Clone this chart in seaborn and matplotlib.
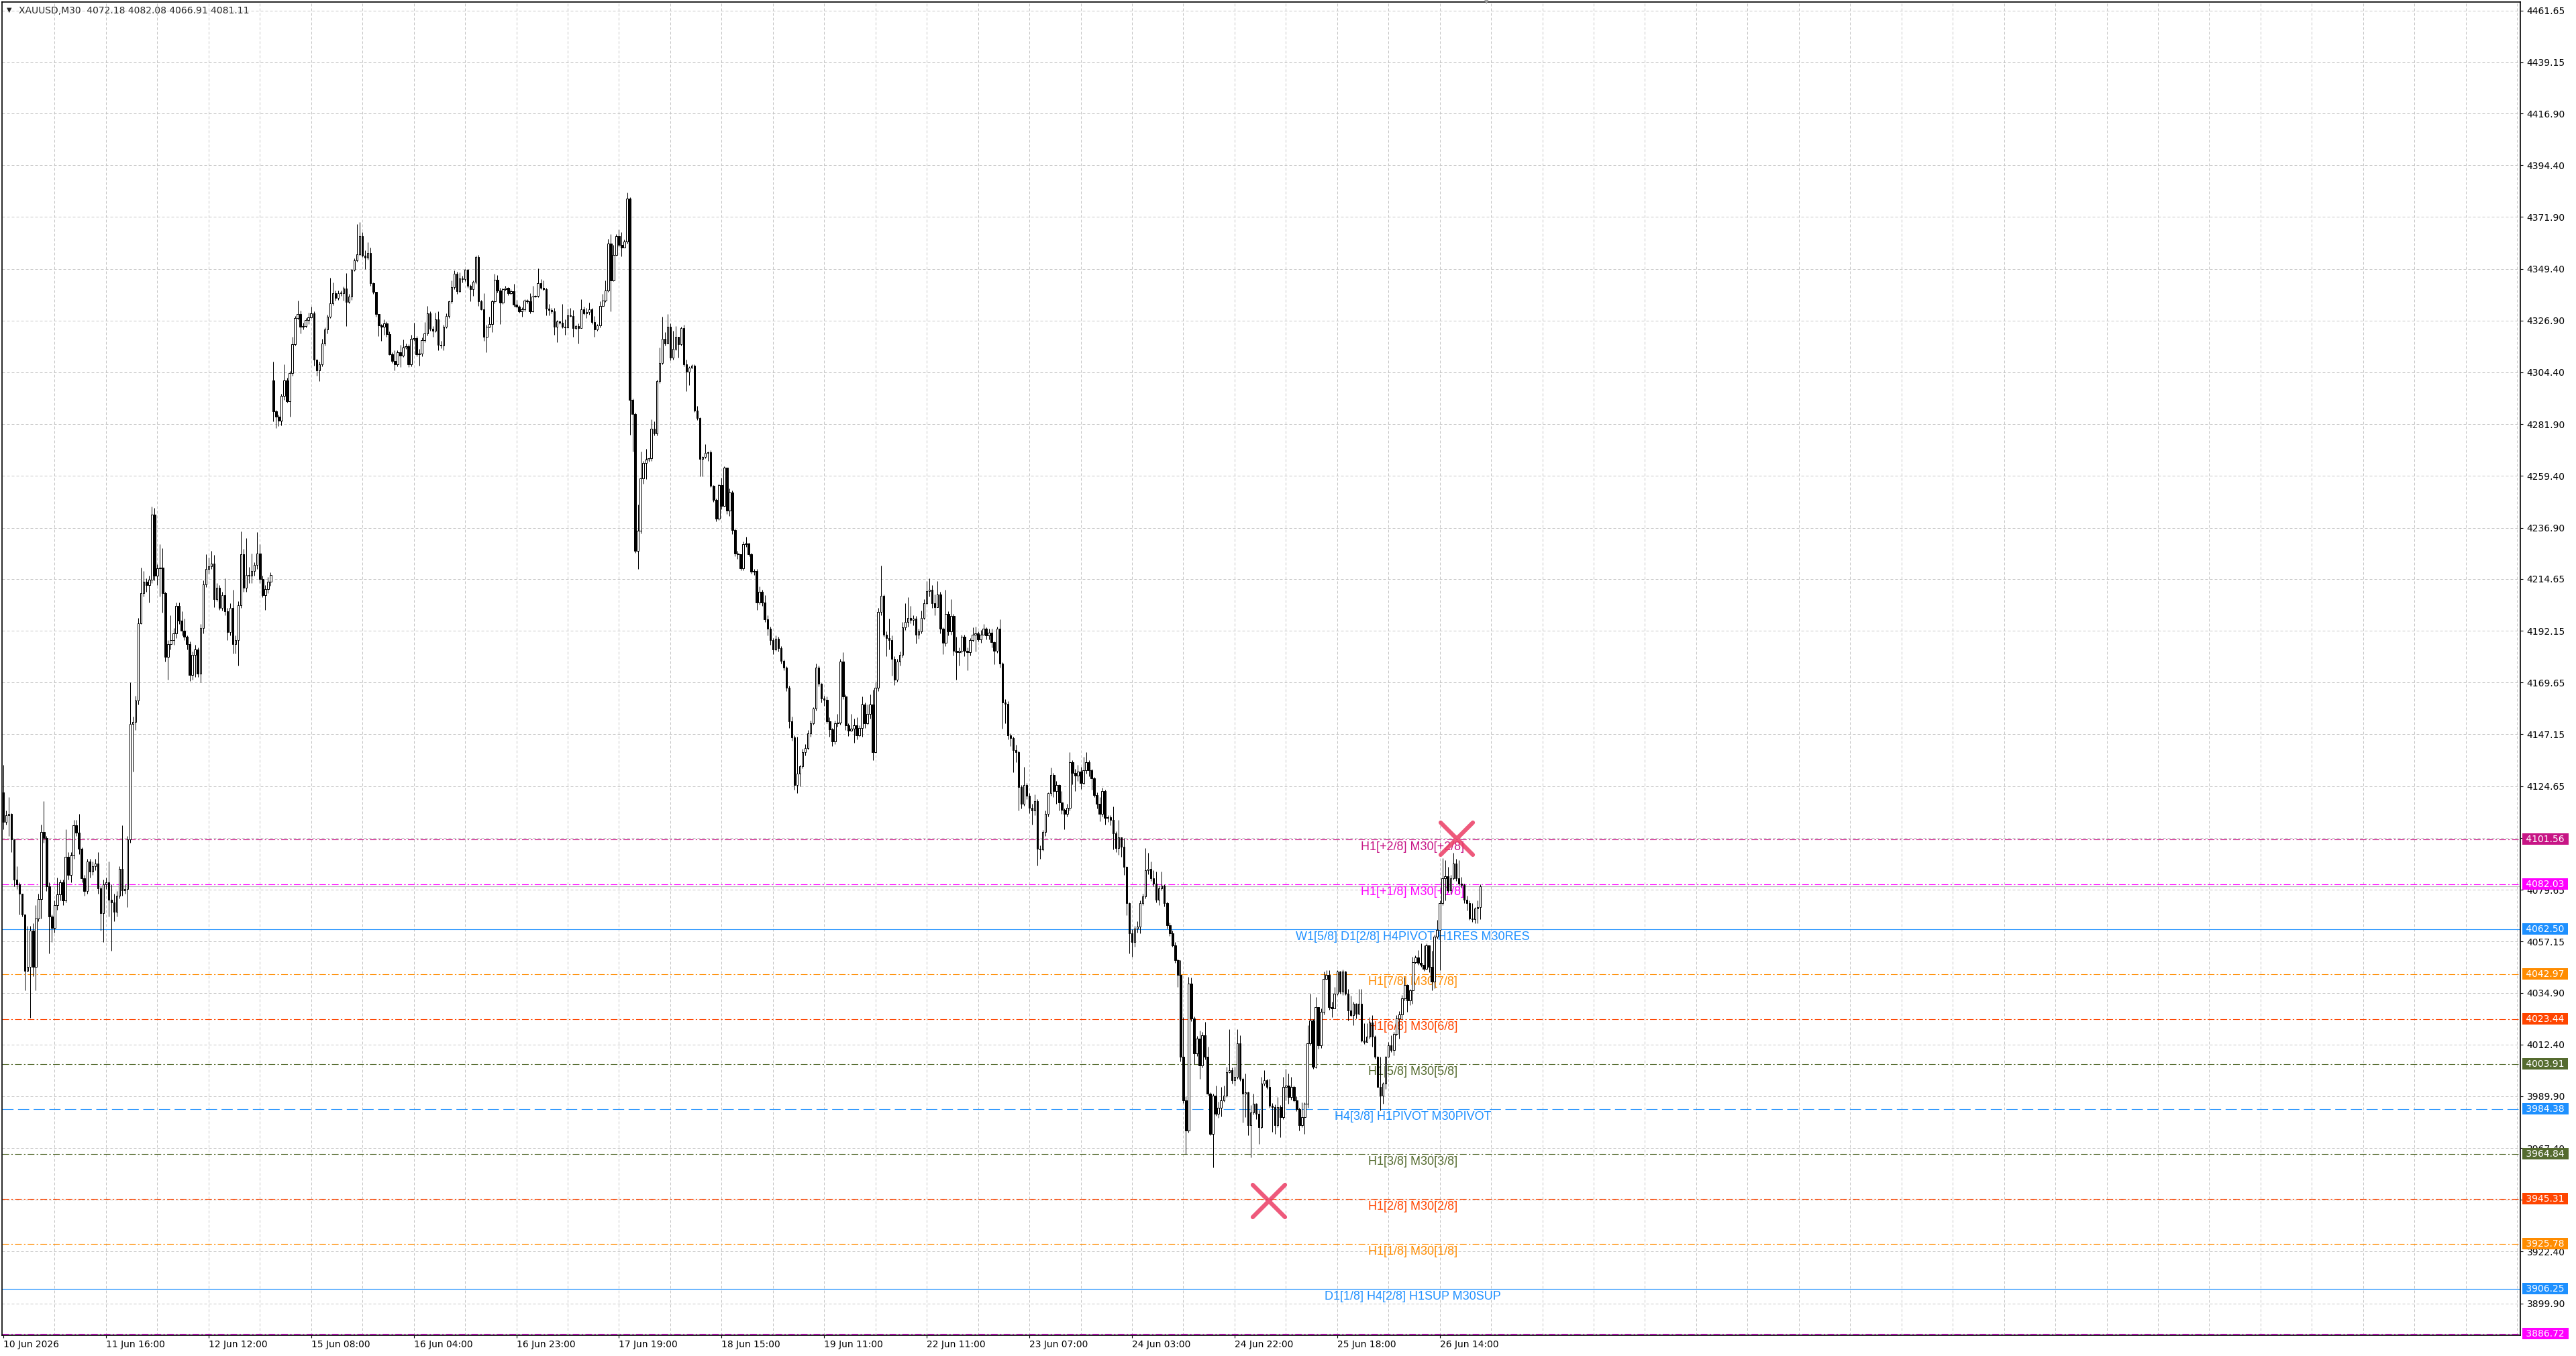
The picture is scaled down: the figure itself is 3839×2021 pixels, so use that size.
import numpy as np
import pandas as pd
import matplotlib
matplotlib.use("Agg")
import matplotlib.pyplot as plt
from matplotlib.markers import MarkerStyle
import seaborn as sns

# ---- data (XAUUSD M30) ----
symbol_text = "XAUUSD,M30  4072.18 4082.08 4066.91 4081.11"
first_open = 4122.0
gap_opens = {100: 4301.0}   # monday open after the weekend

close = [
    # 10 Jun - 12 Jun
    4109, 4112, 4112.5, 4101.5, 4084, 4082, 4078, 4069, 4044.5, 4046,
    4062, 4046, 4067, 4075.5, 4104.7, 4102, 4081, 4068, 4063, 4073,
    4077.6, 4083, 4075, 4094, 4086, 4094.5, 4107.5, 4104.4, 4097.3, 4084.7,
    4079.2, 4091.8, 4087.4, 4090, 4091, 4080.3, 4069.4, 4082, 4083, 4075.2,
    4074, 4070, 4077, 4088.6, 4079.5, 4080, 4101.5, 4151.6, 4152.4, 4161.9,
    4195.4, 4208.4, 4213.4, 4212, 4214.4, 4242.6, 4216.2, 4219.4, 4219.7, 4208.4,
    4180.8, 4186.3, 4188.2, 4191, 4202.9, 4196.6, 4192.3, 4189.5, 4186.3, 4172.9,
    4181.6, 4184, 4173.4, 4193.4, 4212.3, 4219.1, 4220.2, 4221.3, 4206, 4210.7,
    4202, 4207.6, 4200.5, 4191.5, 4202.1, 4186.3, 4188, 4203.3, 4225.4, 4210.7,
    4216.3, 4216, 4218, 4220.7, 4225.7, 4214.7, 4207.6, 4210.3, 4213.4, 4216.3,
    # 15 Jun - 18 Jun
    4287.5, 4285.3, 4283.4, 4294.2, 4300.9, 4292.0, 4304.0, 4316.6, 4328.1, 4329.8,
    4324.2, 4324.5, 4327.0, 4328.3, 4330.0, 4309.9, 4305.2, 4307.9, 4316.9, 4323.0,
    4328.6, 4334.4, 4338.7, 4336.7, 4338.7, 4338.9, 4340.9, 4335.0, 4337.2, 4349.0,
    4353.2, 4355.7, 4363.5, 4355.2, 4354.3, 4356.4, 4343.2, 4339.3, 4329.8, 4324.7,
    4324.2, 4325.8, 4321.0, 4312.4, 4309.4, 4307.9, 4313.0, 4311.6, 4315.2, 4315.8,
    4307.9, 4319.1, 4319.3, 4312.4, 4312.6, 4318.3, 4321.4, 4330.1, 4323.3, 4322.5,
    4327.3, 4316.3, 4316.0, 4324.2, 4328.9, 4335.3, 4341.3, 4347.1, 4339.6, 4345.2,
    4345.0, 4349.0, 4342.0, 4340.6, 4343.7, 4354.6, 4335.3, 4331.8, 4319.7, 4324.2,
    4325.5, 4335.3, 4344.5, 4340.0, 4334.8, 4340.4, 4341.2, 4338.7, 4339.6, 4333.7,
    4333.1, 4330.9, 4331.8, 4335.6, 4335.4, 4330.9, 4337.4, 4337.6, 4343.2, 4341.2,
    4340.4, 4332.0, 4331.6, 4330.9, 4324.2, 4326.6, 4326.1, 4324.2, 4324.0, 4329.2,
    4329.0, 4323.6, 4324.5, 4323.6, 4331.8, 4330.0, 4330.5, 4331.8, 4326.2, 4323.0,
    4324.7, 4333.3, 4335.6, 4340.0, 4360.5, 4344.3, 4355.5, 4363.5, 4359.7, 4358.5,
    4361.3, 4380.0, 4292.3, 4286.2, 4226.9, 4235.6, 4258.2, 4265.1, 4266.6, 4267.0,
    4280.0, 4277.8, 4300.7, 4308.5, 4319.1, 4316.9, 4324.2, 4310.8, 4314.7, 4319.7,
    4316.6, 4323.6, 4307.9, 4304.6, 4306.3, 4307.4, 4287.8, 4284.5, 4266.9, 4267.6,
    4269.4, 4269.6, 4255.1, 4249.1, 4240.9, 4255.4, 4246.5, 4262.9,
    # 18 Jun - 23 Jun
    4244.3, 4252.3, 4235.9, 4225.8, 4225.3, 4219.2, 4229.9, 4230.0, 4225.5, 4217.9,
    4218.2, 4204.3, 4209.0, 4204.3, 4197.0, 4193.0, 4188.0, 4184.1, 4188.7, 4184.5,
    4179.0, 4176.2, 4167.3, 4152.9, 4145.8, 4125.2, 4130.0, 4133.2, 4139.5, 4141.3,
    4147.6, 4152.0, 4158.3, 4176.2, 4169.0, 4162.8, 4162.0, 4152.9, 4149.3, 4144.0,
    4152.0, 4152.3, 4178.9, 4163.7, 4151.1, 4148.8, 4149.5, 4151.1, 4146.6, 4150.0,
    4160.1, 4152.0, 4156.0, 4160.1, 4139.5, 4167.3, 4200.4, 4207.2, 4190.5, 4189.0,
    4188.0, 4179.8, 4170.8, 4178.9, 4181.6, 4193.6, 4196.0, 4197.7, 4196.8, 4197.3,
    4190.5, 4191.8, 4197.7, 4204.0, 4209.3, 4210.0, 4204.0, 4202.5, 4207.9, 4192.9,
    4187.0, 4199.5, 4191.8, 4198.6, 4183.4, 4182.8, 4183.4, 4189.6, 4183.4, 4182.8,
    4188.2, 4190.5, 4191.0, 4188.5, 4190.5, 4192.9, 4190.1, 4191.3, 4187.1, 4183.4,
    4192.9, 4178.0, 4161.0, 4160.5, 4146.6, 4145.5, 4140.4, 4139.5, 4124.3, 4117.1,
    4125.2, 4120.5, 4115.3, 4114.0, 4118.0, 4097.4, 4097.2, 4104.6, 4112.6, 4121.6,
    4129.6, 4122.5, 4125.2, 4117.5, 4114.4, 4112.6, 4115.3, 4135.0, 4130.5, 4129.3,
    4131.0, 4126.1, 4131.4, 4135.0, 4131.4, 4127.9, 4120.7, 4117.1, 4112.6, 4122.5,
    4110.8, 4111.2, 4109.9,
    # 23 Jun - 26 Jun
    4104.2, 4097.6, 4102.5, 4098.4, 4089.7, 4073.7, 4060.6, 4057.0, 4062.8, 4063.7,
    4073.7, 4076.6, 4088.2, 4088.6, 4084.6, 4082.4, 4075.2, 4080.2, 4081.4, 4073.7,
    4064.3, 4060.6, 4055.6, 4049.0, 4042.5, 4007.0, 3988.1, 3975.0, 4038.9, 4023.7,
    4008.4, 4015.0, 4003.3, 4016.4, 4007.0, 3991.0, 3973.6, 3990.3, 3982.3, 3985.0,
    3988.1, 3990.3, 4000.4, 4001.1, 3996.8, 3998.2, 4012.8, 3997.5, 3991.0, 3991.5,
    3977.2, 3983.0, 3986.6, 3982.2, 3976.5, 3995.3, 3996.8, 3993.9, 3985.9, 3985.2,
    3977.2, 3985.2, 3980.8, 3993.9, 3994.6, 3989.5, 3993.9, 3988.1, 3984.4, 3977.2,
    3980.8, 3986.6, 4012.8, 4022.9, 4002.6, 4028.7, 4012.0, 4026.5, 4041.0, 4042.5,
    4028.7, 4028.0, 4034.5, 4044.0, 4035.2, 4044.0, 4034.5, 4027.3, 4025.1, 4030.2,
    4025.8, 4030.2, 4014.2, 4013.5, 4015.7, 4022.0, 4015.7, 4007.0, 3993.9, 3990.3,
    3995.3, 4007.0, 4012.0, 4010.0, 4017.1, 4023.7, 4025.5, 4032.3, 4038.2, 4031.6,
    4035.9, 4048.3, 4050.2, 4048.0, 4047.0, 4045.4, 4055.6, 4046.1, 4039.6, 4059.2,
    4062.1, 4073.7, 4084.6, 4085.5, 4079.5, 4084.6, 4091.1, 4084.6, 4082.4, 4081.7,
    4075.2, 4073.7, 4067.2, 4066.7, 4071.5, 4072.18, 4081.11,
]

high = [
    4134, 4114, 4120, 4113, 4101, 4090, 4083, 4078, 4063, 4064,
    4064, 4065, 4073, 4078, 4108, 4118, 4103, 4083, 4069, 4075,
    4085, 4084, 4084, 4106, 4096, 4096, 4110, 4110, 4112.6, 4098,
    4086, 4093, 4093, 4092, 4093, 4096, 4081, 4084, 4085, 4092,
    4082, 4078, 4079, 4090, 4107.5, 4082, 4103, 4169.8, 4155, 4164,
    4197.6, 4219.7, 4218, 4215, 4216, 4246.2, 4245.4, 4221, 4229.7, 4228,
    4209, 4188, 4199, 4193.4, 4204.5, 4204.3, 4200.5, 4197.4, 4190, 4187.6,
    4183, 4186, 4185, 4195, 4214, 4225.4, 4224, 4227, 4225, 4213,
    4212, 4209, 4215, 4202, 4204, 4210, 4190, 4205, 4235.2, 4227.6,
    4232.3, 4220, 4225.7, 4222, 4234.9, 4229.7, 4216, 4212, 4215.5, 4217.5,
    4309, 4288, 4286, 4295, 4308, 4302, 4305, 4319.7, 4329, 4335.7,
    4331.2, 4326, 4328, 4330.3, 4333.1, 4331, 4310, 4309, 4319.1, 4324,
    4329.5, 4345.6, 4343.4, 4340, 4340, 4340, 4341.7, 4347.6, 4338.5, 4349.3,
    4354, 4368.9, 4369.8, 4365.3, 4357.5, 4361, 4358.6, 4343.5, 4339.5, 4329.5,
    4325.5, 4327.3, 4326.6, 4322.1, 4313, 4314, 4314, 4316.3, 4318.6, 4317,
    4316.5, 4320.8, 4326, 4320, 4314.5, 4319.5, 4326.4, 4333.3, 4331, 4324.5,
    4330.3, 4330.9, 4318, 4325, 4330, 4335.7, 4344.3, 4348.8, 4348, 4347.8,
    4346.5, 4349.3, 4349.3, 4342.5, 4344.3, 4355.2, 4355.3, 4336, 4338.9, 4325,
    4328.6, 4336, 4347.1, 4346.8, 4341, 4341, 4342, 4341.5, 4340.5, 4342.9,
    4335.9, 4333.5, 4332.7, 4336.1, 4336.3, 4338.9, 4342, 4338, 4349.7, 4344.8,
    4344.3, 4341, 4334.2, 4332.5, 4332.3, 4327, 4326.8, 4334, 4327.5, 4332.2,
    4332.5, 4331.4, 4325, 4325.8, 4336.1, 4333.1, 4332.5, 4334.8, 4332.3, 4328.8,
    4325.5, 4335.3, 4338.5, 4344.3, 4362.4, 4364.4, 4359.9, 4364.4, 4366.6, 4365.3,
    4362, 4382.5, 4380.5, 4293, 4287, 4247, 4269.9, 4266, 4271.1, 4267.5,
    4283.9, 4283, 4301.2, 4315.2, 4328.6, 4321.9, 4329.8, 4325.8, 4322.5, 4324.4,
    4319.7, 4324.2, 4325, 4309.8, 4307, 4308, 4308, 4289.7, 4285, 4268,
    4273.3, 4270, 4270.7, 4255.5, 4249.5, 4256, 4258.5, 4263.5,
    4262, 4254, 4253, 4236.5, 4227, 4225.5, 4231, 4233, 4230.5, 4226,
    4219, 4219, 4211.5, 4210, 4207.6, 4199, 4194, 4189, 4190, 4189.5,
    4185.5, 4179.5, 4176.7, 4168.2, 4155, 4146.6, 4146, 4134, 4141, 4143,
    4149, 4153, 4159, 4178, 4177, 4169.5, 4164, 4163.5, 4154.5, 4150,
    4153, 4156, 4179.8, 4182.8, 4164.5, 4152, 4156, 4154, 4154.7, 4151,
    4163.5, 4161, 4160, 4164.5, 4166.4, 4170, 4202, 4220.5, 4207.8, 4192,
    4197.5, 4190, 4181, 4180, 4183, 4196, 4204, 4206.6, 4203, 4199,
    4198.5, 4193, 4201, 4206, 4213.8, 4215, 4212, 4208, 4213.8, 4209.2,
    4193.5, 4210, 4200.5, 4206, 4199.5, 4189.6, 4185, 4190.5, 4190.5, 4185,
    4189, 4193.7, 4194, 4192, 4192.5, 4195, 4193.5, 4193, 4193, 4187.5,
    4194, 4197, 4178.5, 4162.5, 4161.5, 4147.5, 4146, 4142.5, 4140, 4125,
    4133, 4126, 4121.5, 4117, 4121, 4119, 4099, 4105.5, 4114, 4122,
    4132.7, 4130.5, 4127, 4125.5, 4122.5, 4115, 4117, 4139.5, 4136, 4132,
    4134, 4133, 4137.5, 4139.5, 4136, 4132, 4128.5, 4122, 4120, 4124,
    4123, 4112, 4112,
    4115.8, 4105, 4110, 4101, 4102, 4090, 4074, 4062.5, 4064, 4066,
    4075, 4078, 4097.6, 4095.8, 4091.8, 4088, 4087.5, 4081.5, 4087.5, 4082,
    4074.5, 4065.5, 4062, 4057, 4049.5, 4049, 4024.4, 3990, 4041.8, 4041.5,
    4024.5, 4016, 4018.5, 4017.9, 4022.3, 4011.5, 3991.5, 3991, 3994.6, 3987.5,
    3993.9, 3994.6, 4002.6, 4018.9, 4002.5, 4002.6, 4018.9, 4016.4, 3998, 3999.7,
    3992, 3986, 3991, 3987, 3984, 3998.2, 4001.1, 3997.5, 3997.5, 3987,
    3986.5, 3989.5, 3986, 3998.2, 4001.9, 3999.7, 3998.2, 3994.5, 3990, 3985,
    3987.3, 3987.3, 4020.7, 4034.5, 4023.5, 4033, 4028.7, 4028, 4044, 4044.7,
    4044.7, 4031, 4037.4, 4044.7, 4044.5, 4045, 4044.5, 4036.5, 4033.5, 4031,
    4030.5, 4036.5, 4036.5, 4021.5, 4021.5, 4024.4, 4025, 4016.5, 4007.5, 4007,
    3996, 4007.5, 4013.5, 4016.4, 4018, 4025.1, 4027, 4033.8, 4041.8, 4038.5,
    4036.6, 4050.5, 4051, 4053.4, 4056.3, 4055.5, 4056.3, 4055.6, 4053.2, 4060,
    4066.4, 4075, 4093.3, 4092.5, 4089.7, 4086, 4095.8, 4093, 4092.5, 4085.3,
    4082.4, 4077, 4075, 4073.7, 4072, 4075, 4082.08,
]

low = [
    4106, 4108, 4103, 4096, 4081, 4080, 4069, 4068, 4036, 4044,
    4024, 4042, 4036, 4066, 4067, 4100, 4079, 4052, 4057, 4061,
    4071, 4075, 4073, 4074, 4084, 4083, 4093, 4103, 4095, 4083,
    4077, 4078, 4085, 4086, 4088, 4078, 4062, 4057, 4080, 4068,
    4053, 4066, 4068, 4076, 4077, 4078, 4072, 4100, 4131, 4149,
    4160, 4195, 4207, 4209, 4204.5, 4213, 4214, 4212, 4207, 4200,
    4178.8, 4170.9, 4184, 4186, 4189, 4195, 4190, 4188, 4184, 4170.2,
    4171, 4172, 4172, 4169.8, 4191, 4211, 4217, 4219, 4202.4, 4205,
    4201.3, 4201, 4199, 4188.2, 4190, 4182.4, 4182.4, 4176.9, 4202, 4209,
    4209, 4213, 4213, 4216, 4219, 4213, 4206.8, 4201.3, 4208.4, 4211.8,
    4283, 4280.3, 4281, 4281.5, 4292.5, 4291.4, 4285.3, 4303, 4316, 4327.5,
    4321.4, 4323, 4324, 4325.3, 4328, 4307.4, 4302.9, 4300.7, 4307, 4316,
    4321.4, 4328, 4333.5, 4335.5, 4336, 4337.5, 4335.5, 4324.4, 4334.5, 4336,
    4348.5, 4352.5, 4355, 4354.5, 4349.3, 4353.5, 4342, 4338.5, 4328.6, 4320.2,
    4318, 4320.8, 4319.7, 4312, 4308.5, 4305.4, 4307, 4306.8, 4311, 4314.5,
    4306.6, 4307, 4318, 4311.5, 4307.4, 4311.5, 4317.5, 4320.5, 4322.5, 4319.7,
    4322, 4314.1, 4315, 4314.1, 4323.5, 4328, 4334.5, 4340.5, 4338.5, 4339,
    4343.5, 4344, 4341, 4335.3, 4337.6, 4343, 4333.3, 4331.4, 4318, 4313,
    4324, 4321.9, 4334.5, 4339, 4325.3, 4334.2, 4340, 4338, 4338.3, 4333,
    4332.5, 4330.3, 4328.6, 4331, 4334.5, 4330, 4330.5, 4337, 4337, 4340.5,
    4340, 4329.2, 4329.2, 4330, 4320.8, 4317.5, 4325.5, 4323.6, 4320.8, 4323.6,
    4328.5, 4319.7, 4323, 4316.9, 4323.5, 4329.5, 4328, 4329.5, 4325.3, 4319.7,
    4322.5, 4324, 4333, 4335, 4339.5, 4330.9, 4344, 4355, 4359, 4354.9,
    4359, 4360.5, 4277.2, 4270, 4226, 4219.1, 4234.5, 4256, 4258, 4265.5,
    4266, 4277, 4277, 4299.6, 4308, 4316, 4317, 4309.6, 4310, 4314,
    4310.8, 4316, 4307, 4296.2, 4299, 4306, 4287.3, 4283.7, 4259.3, 4259.3,
    4267, 4266, 4254.5, 4248.2, 4239.8, 4240.4, 4244.8, 4246,
    4243, 4242, 4234, 4224.5, 4223.5, 4218.5, 4218.5, 4228.5, 4224.5, 4217,
    4216.5, 4201.3, 4203.5, 4203, 4196, 4190, 4186, 4182, 4183.5, 4183,
    4178, 4175, 4166, 4150, 4144.5, 4123, 4121.6, 4124.5, 4132.5, 4138,
    4140.5, 4146, 4151.5, 4157.5, 4168, 4161, 4159.5, 4152, 4146, 4142,
    4143, 4150.5, 4151.5, 4162.5, 4149, 4146.5, 4148.5, 4143.5, 4145, 4146,
    4146, 4150, 4151.5, 4154, 4135.9, 4139, 4166, 4199, 4189.5, 4181,
    4184, 4172.5, 4168.5, 4170, 4177, 4180.5, 4192.5, 4194, 4195.5, 4194.5,
    4186.5, 4188.8, 4191, 4197, 4203.5, 4207, 4202, 4199, 4203, 4191,
    4182, 4185.5, 4190, 4190.5, 4181.5, 4170.8, 4177, 4182.5, 4181, 4175,
    4181.5, 4187.5, 4183, 4187.5, 4187, 4190.5, 4188.5, 4188.5, 4185, 4177.7,
    4182.5, 4176, 4149.5, 4152, 4145, 4142, 4130.6, 4135, 4114, 4115,
    4116, 4119, 4113, 4108, 4112, 4090.2, 4093, 4096.5, 4103, 4111.5,
    4120.5, 4120, 4117, 4114, 4112.5, 4106, 4111.5, 4114, 4125.5, 4122.5,
    4127, 4123.5, 4125.5, 4130, 4129, 4123, 4120, 4115, 4109.5, 4111.5,
    4108, 4109, 4107.5,
    4097, 4096, 4094.7, 4094, 4086, 4068.5, 4051.9, 4050.5, 4055, 4061,
    4060.6, 4073, 4076, 4086.5, 4083.5, 4081, 4074, 4073, 4079.5, 4072.5,
    4062.8, 4059.5, 4054.8, 4048, 4037.4, 4005, 3987, 3964.9, 3974, 4022.5,
    4004, 4007.5, 3997.5, 4002.5, 4006, 3990.3, 3972.9, 3959, 3981.5, 3980.5,
    3981, 3987.5, 3989.5, 4000, 3995.5, 3994.5, 3997.5, 3996.5, 3978.6, 3980.8,
    3972.9, 3963.4, 3982, 3980, 3969.2, 3976, 3994.5, 3993, 3985, 3974.3,
    3973.6, 3976.5, 3972.1, 3980, 3988, 3986.6, 3988.5, 3987.5, 3983.5, 3975,
    3976.5, 3973.6, 3985, 4012, 4001.9, 4002, 4010.5, 4011, 4025.5, 4040.5,
    4027.5, 4024.4, 4029.5, 4034, 4034.5, 4034, 4034, 4022.9, 4024.5, 4020.7,
    4023.6, 4025.5, 4013.5, 4012.5, 4014, 4015, 4011.3, 4006.2, 3993.9, 3983.7,
    3986.6, 3993.2, 4007, 4009, 4007.7, 4016.5, 4015, 4023, 4031.5, 4026.5,
    4029.5, 4030.2, 4047.5, 4047, 4046, 4044.5, 4045, 4043.9, 4036, 4036.7,
    4058.5, 4044.7, 4073, 4075, 4078.5, 4078, 4084, 4083.5, 4081.5, 4080.5,
    4073.7, 4070.7, 4066.5, 4065.7, 4065, 4065, 4066.91,
]

time_labels = ["10 Jun 2026", "11 Jun 16:00", "12 Jun 12:00", "15 Jun 08:00",
               "16 Jun 04:00", "16 Jun 23:00", "17 Jun 19:00", "18 Jun 15:00",
               "19 Jun 11:00", "22 Jun 11:00", "23 Jun 07:00", "24 Jun 03:00",
               "24 Jun 22:00", "25 Jun 18:00", "26 Jun 14:00"]
label_step = 38   # bars between time labels
grid_step = 19

price_ticks = [4461.65, 4439.15, 4416.90, 4394.40, 4371.90, 4349.40, 4326.90,
               4304.40, 4281.90, 4259.40, 4236.90, 4214.65, 4192.15, 4169.65,
               4147.15, 4124.65, 4102.15, 4079.65, 4057.15, 4034.90, 4012.40,
               3989.90, 3967.40, 3944.90, 3922.40, 3899.90]

level_prices = [4101.56, 4082.03, 4062.50, 4042.97, 4023.44, 4003.91,
                3984.38, 3964.84, 3945.31, 3925.78, 3906.25, 3886.72]
level_names = ["H1[+2/8] M30[+2/8]", "H1[+1/8] M30[+1/8]",
               "W1[5/8] D1[2/8] H4PIVOT H1RES M30RES", "H1[7/8] M30[7/8]",
               "H1[6/8] M30[6/8]", "H1[5/8] M30[5/8]", "H4[3/8] H1PIVOT M30PIVOT",
               "H1[3/8] M30[3/8]", "H1[2/8] M30[2/8]", "H1[1/8] M30[1/8]",
               "D1[1/8] H4[2/8] H1SUP M30SUP", ""]
level_colors = ["#C71585", "#FF00FF", "#1E90FF", "#FF8C00", "#FF4500", "#556B2F",
                "#1E90FF", "#556B2F", "#FF4500", "#FF8C00", "#1E90FF", "#FF00FF"]
level_kinds = ["dashdot", "dashdot", "solid", "dashdot", "dashdot", "dashdot",
               "dash", "dashdot", "dashdot", "dashdot", "solid", "dashdot"]

bid_price = 4081.11
signal_bars = [538.3, 468.7]
signal_prices = [4101.9, 3944.5]

# ---- build candles ----
n = min(len(close), len(high), len(low))
df = pd.DataFrame({"close": close[:n], "high": high[:n], "low": low[:n]})
df["open"] = df["close"].shift(1)
df.loc[0, "open"] = first_open
for k, v in gap_opens.items():
    df.loc[k, "open"] = v
df["high"] = df[["high", "open", "close"]].max(axis=1)
df["low"] = df[["low", "open", "close"]].min(axis=1)
df["x"] = np.arange(n)
bull = df["close"] >= df["open"]

sns.set_theme(style="white")
plt.rcParams["font.family"] = ["DejaVu Sans"]

W, H = 3839, 2021
fig = plt.figure(figsize=(W / 100, H / 100), dpi=100)
fig.patch.set_facecolor("white")
ax = fig.add_axes([3 / W, (H - 1990) / H, 3753 / W, 1987 / H])
ax.set_facecolor("white")
ax.set_xlim(-0.5, 932.2)
ax.set_ylim(3886.1, 4465.3)

# grid
for k in range(grid_step, 933, grid_step):
    ax.axvline(k, color="#C4C4C4", lw=0.72, ls=(0, (4, 3)), zorder=0.5)
ax.set_yticks(price_ticks)
ax.set_yticklabels([f"{t:.2f}" for t in price_ticks])
ax.grid(axis="y", color="#C4C4C4", lw=0.72, ls=(0, (4, 3)))
ax.grid(axis="x", visible=False)

# level lines
styles = {"solid": "-", "dashdot": (0, (9, 3, 2, 3)), "dash": (0, (15, 6))}
for p, c, kind in zip(level_prices, level_colors, level_kinds):
    ax.axhline(p, color=c, lw=0.8, ls=styles[kind], zorder=2)
ax.axhline(bid_price, color="#B8B8B8", lw=0.8, zorder=2)

for p, c, name in zip(level_prices, level_colors, level_names):
    if name:
        ax.annotate(name, xy=(522, p), xytext=(0, -2), textcoords="offset points",
                    ha="center", va="top", color=c, fontsize=13,
                    family=["Liberation Sans", "DejaVu Sans"], zorder=2.5)

# candles
ax.vlines(df["x"], df["low"], df["high"], colors="black", lw=0.72, zorder=3)
body_lo = df[["open", "close"]].min(axis=1)
body_h = (df["close"] - df["open"]).abs().clip(lower=0.25)
ax.bar(df["x"], body_h, bottom=body_lo, width=0.62,
       color=np.where(bull, "white", "black"), edgecolor="black",
       linewidth=0.72, zorder=4)

# signal crosses
ax.plot(signal_bars, signal_prices, ls="none",
        marker=MarkerStyle("x", capstyle="round"), ms=34, mew=4.5,
        color="#EB3C64", alpha=0.85, zorder=6)

# right side price boxes
for p, c in zip(level_prices, level_colors):
    ax.annotate(f" {p:.2f} ", xy=(1, p), xycoords=("axes fraction", "data"),
                xytext=(3, 0), textcoords="offset points", ha="left", va="center",
                color="white", fontsize=10, annotation_clip=False, zorder=10,
                bbox=dict(boxstyle="square,pad=0.1", fc=c, ec="none"))

# axes
ax.set_xticks(np.arange(len(time_labels)) * label_step)
ax.set_xticklabels(time_labels, ha="left")
ax.yaxis.tick_right()
ax.tick_params(axis="y", right=True, left=False, labelright=True, labelleft=False,
               length=3, width=0.8, pad=4, labelsize=10, direction="out", colors="black")
ax.tick_params(axis="x", bottom=True, length=3, width=0.8, pad=2, labelsize=10,
               direction="out", colors="black")
for s in ax.spines.values():
    s.set_color("black")
    s.set_linewidth(1.2)

fig.text(14 / W, 1 - 15 / H, "\u25BC", fontsize=7, ha="center", va="center")
fig.text(28 / W, 1 - 16 / H, symbol_text, fontsize=10, ha="left", va="center")
fig.text(2215 / W, 1 - 3 / H, "\u25BC", fontsize=6, color="#A0A0A0",
         ha="center", va="center")

fig.savefig("out.png", dpi=100)
